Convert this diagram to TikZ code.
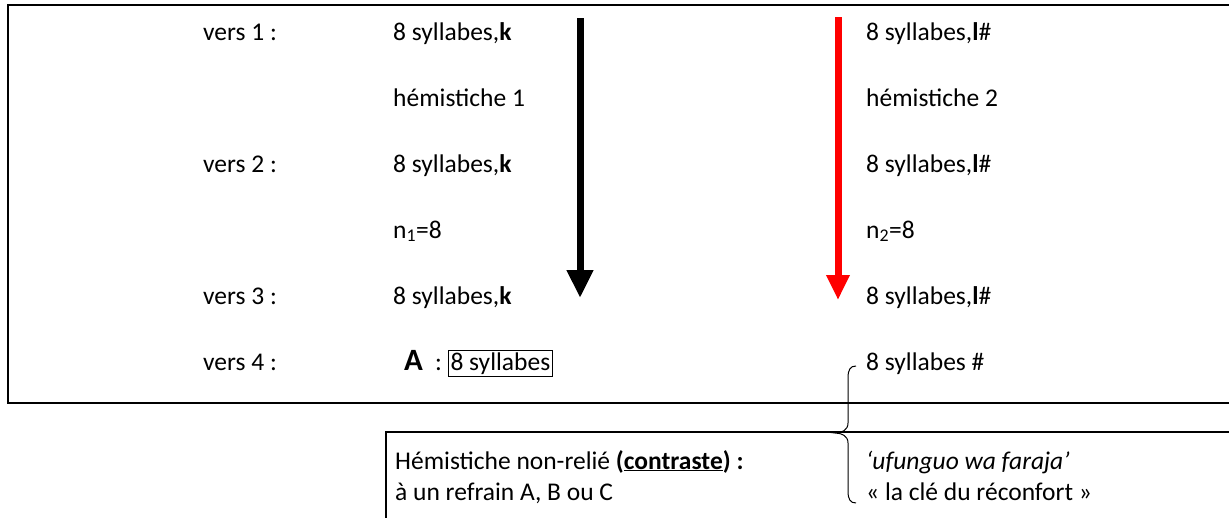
\documentclass[tikz,border=0pt]{standalone}
\usepackage{fontspec}
\setmainfont{Carlito}
\usetikzlibrary{arrows.meta}
\tikzset{
  txt/.style={anchor=base west, inner sep=0pt, font=\fontsize{25.5}{30}\selectfont},
  frame/.style={line width=2pt, black},
  bigarrow/.style={line width=7pt, -{Triangle[width=25pt,length=28pt]}},
}
\begin{document}
\begin{tikzpicture}[x=1pt,y=-1pt]
\useasboundingbox (0,0) rectangle (1229,517);
% frames
\draw[frame] (1229,5) -- (8,5) -- (8,403) -- (1229,403);
\draw[frame] (1229,432) -- (386,432) -- (386,520);
% column 1
\node[txt] (v1) at (203,40) {vers 1 :};
\node[txt] (v2) at (203,172) {vers 2 :};
\node[txt] (v3) at (203,304) {vers 3 :};
\node[txt] (v4) at (203,370) {vers 4 :};
% column 2
\node[txt] (a1) at (393,40) {8 syllabes,\textbf{k}};
\node[txt] (h1) at (393,106) {hémistiche 1};
\node[txt] (a2) at (393,172) {8 syllabes,\textbf{k}};
\node[txt] (n1) at (393,238) {n\textsubscript{1}=8};
\node[txt] (a3) at (393,304) {8 syllabes,\textbf{k}};
\node[txt, font=\fontsize{31}{36}\selectfont\bfseries] (A) at (404,370) {A};
\node[txt] (colon) at (435,370) {:};
\node[txt, draw, line width=1pt, inner sep=2pt] (box) at (448,370) {8 syllabes};
% column 3
\node[txt] (b1) at (866,40) {8 syllabes,\textbf{l}\#};
\node[txt] (h2) at (866,106) {hémistiche 2};
\node[txt] (b2) at (866,172) {8 syllabes,\textbf{l}\#};
\node[txt] (n2) at (866,238) {n\textsubscript{2}=8};
\node[txt] (b3) at (866,304) {8 syllabes,\textbf{l}\#};
\node[txt] (b4) at (866,370) {8 syllabes \#};
% arrows
\coordinate (k0) at (580,18);
\coordinate (k1) at (580,298);
\coordinate (r0) at (838,17);
\coordinate (r1) at (838,300);
\draw[bigarrow, black] (k0) -- (k1);
\draw[bigarrow, red, -{Triangle[width=22pt,length=25pt]}] (r0) -- (r1);
% lower box text
\node[txt] (c1) at (395,469) {Hémistiche non-relié \textbf{(\underline{contraste}) :}};
\node[txt] (c2) at (395,500) {à un refrain A, B ou C};
\node[txt] (d1) at (866,469) {\textit{‘ufunguo wa faraja’}};
\node[txt] (d2) at (866,500) {« la clé du réconfort »};
% brace
\coordinate (bt) at (856,366);
\coordinate (bm) at (835,433);
\coordinate (bb) at (856,503);
\draw[line width=1pt] (bt) .. controls (850,366) and (848,370) .. (848,378)
  -- (848,423) .. controls (848,430) and (842,433) .. (bm)
  .. controls (842,433) and (848,436) .. (848,443)
  -- (848,491) .. controls (848,499) and (850,503) .. (bb);
\end{tikzpicture}
\end{document}
